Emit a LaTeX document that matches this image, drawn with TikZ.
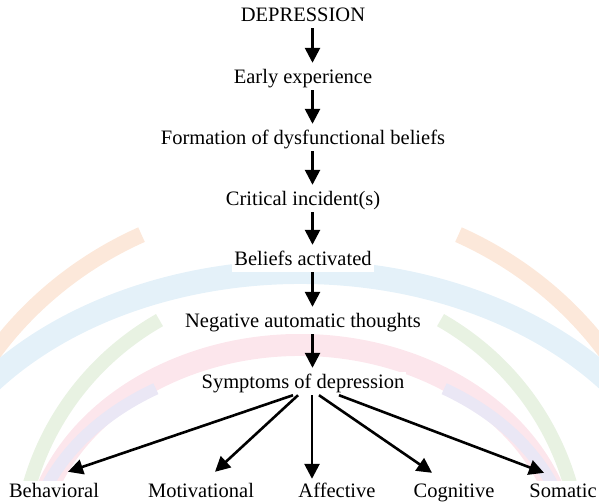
\documentclass[tikz,border=0pt]{standalone}
\usepackage{fontspec}
\setmainfont{Liberation Serif}
\usetikzlibrary{arrows.meta}
\definecolor{wmorange}{RGB}{252,232,218}
\definecolor{wmblue}{RGB}{228,241,249}
\definecolor{wmpink}{RGB}{252,230,236}
\definecolor{wmgreen}{RGB}{232,242,226}
\definecolor{wmpurple}{RGB}{234,231,245}
\tikzset{
    lbl/.style={fill=white, inner sep=2pt, text height=14pt, text depth=5pt,
        anchor=base, font=\fontsize{20.5}{24}\selectfont},
    flow/.style={line width=2.6pt, -{Triangle[length=15pt,width=15pt]}},
}

\begin{document}
\begin{tikzpicture}[x=1pt, y=-1pt]
    \useasboundingbox (0,0) rectangle (599,501);
    % faint arcs in the background
    \begin{scope}
        \clip (0,0) rectangle (599,501);
        \draw[wmorange, line width=16pt] (300,560) ++(-150:375 and 359) arc[start angle=-150, end angle=-115, x radius=375, y radius=359];
        \draw[wmorange, line width=16pt] (300,560) ++(-65:375 and 359) arc[start angle=-65, end angle=-30, x radius=375, y radius=359];
        \draw[wmblue, line width=24pt] (300,560) ++(-150:394 and 288) arc[start angle=-150, end angle=-30, x radius=394, y radius=288];
        \draw[wmgreen, line width=14pt] (300,560) ++(-165:281 and 277) arc[start angle=-165, end angle=-120, x radius=281, y radius=277];
        \draw[wmgreen, line width=14pt] (300,560) ++(-60:281 and 277) arc[start angle=-60, end angle=-15, x radius=281, y radius=277];
        \draw[wmpink, line width=22pt] (300,560) ++(-160:268 and 215) arc[start angle=-160, end angle=-20, x radius=268, y radius=215];
        \draw[wmpurple, line width=12pt] (300,560) ++(-165:272 and 202) arc[start angle=-165, end angle=-122, x radius=272, y radius=202];
        \draw[wmpurple, line width=12pt] (300,560) ++(-58:272 and 202) arc[start angle=-58, end angle=-15, x radius=272, y radius=202];
    \end{scope}

    \node[lbl] (dep) at (303,21) {DEPRESSION};
    \node[lbl] (early) at (303,83) {Early experience};
    \node[lbl] (form) at (303,144) {Formation of dysfunctional beliefs};
    \node[lbl] (crit) at (303,205) {Critical incident(s)};
    \node[lbl] (act) at (303,265) {Beliefs activated};
    \node[lbl] (nat) at (303,327) {Negative automatic thoughts};
    \node[lbl] (sym) at (303,388) {Symptoms of depression};

    \foreach \a/\b in {dep/early, early/form, form/crit, crit/act, act/nat, nat/sym}
        \draw[flow] ([xshift=9.5pt]\a.south) -- ([xshift=9.5pt, yshift=4pt]\b.north);

    \foreach \n/\x/\t/\s/\e/\h in {beh/54/Behavioral/-10/14/9, mot/201/Motivational/-5/14/9,
            aff/337/Affective/9/-25/2, cog/454/Cognitive/16/-22/8, som/563/Somatic/36/-19/8} {
        \node[lbl] (\n) at (\x,497) {\t};
        \draw[flow] ([xshift=\s]sym.south) -- ([xshift=\e, yshift=\h]\n.north);
    }
\end{tikzpicture}
\end{document}
